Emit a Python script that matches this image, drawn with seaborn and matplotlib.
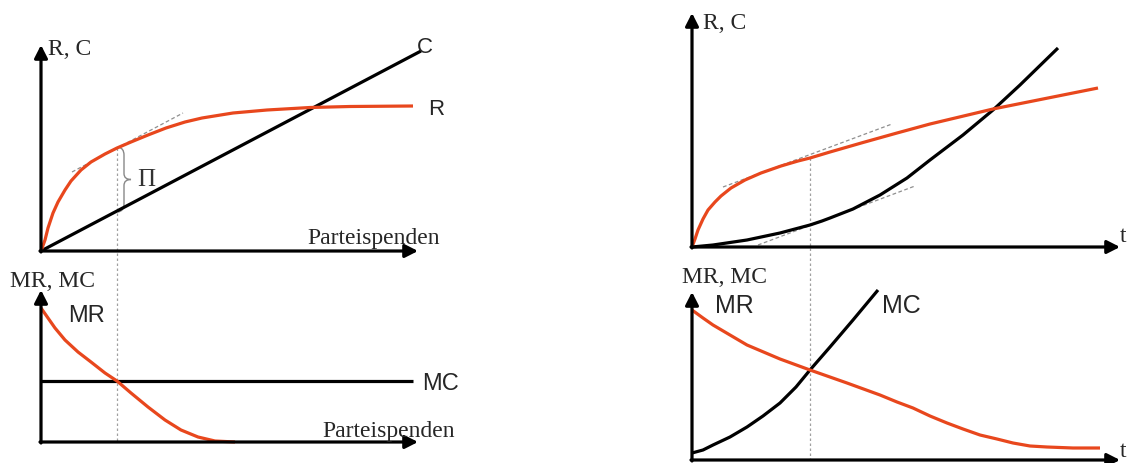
import matplotlib
matplotlib.use("Agg")
import matplotlib.pyplot as plt
import seaborn as sns
from matplotlib.path import Path
from matplotlib.patches import PathPatch

# ---- left column: party donations ----
# total revenue R and total cost C
don_r_x = [0, 4, 7, 12, 17, 24, 30, 40, 50, 64, 76, 90, 107, 125, 144, 161,
           192, 226, 269, 309, 372]
don_r_y = [0, 11, 23, 38, 49, 61, 70, 81, 89, 97, 103, 109, 116, 123, 129, 133,
           138, 141, 143.5, 144.5, 145]
don_c_x = [0, 380]
don_c_y = [0, 200]
don_tangent_x = [31, 142]
don_tangent_y = [79, 138]
don_opt_x = 76          # optimal donations (MR = MC)
don_opt_r = 103
don_opt_c = 40

# marginal revenue MR and marginal cost MC
don_mr_x = [0, 7, 14, 24, 37, 50, 64, 76, 90, 107, 124, 140, 157, 174, 194]
don_mr_y = [134, 124, 114, 102, 90, 80, 69, 61, 49, 35, 22, 12, 5, 1, 0]
don_mc_x = [0, 372]
don_mc_y = [61, 61]

# ---- right column: time t ----
t_r_x = [0, 3, 6, 11, 16, 23, 29, 39, 53, 69, 89, 106, 118, 138, 171, 205,
         238, 301, 406]
t_r_y = [0, 8, 17, 28, 37, 45, 51, 59, 67, 74, 81, 86, 89, 95, 104.5, 114,
         123, 138, 159]
t_c_x = [0, 21, 55, 88, 118, 130, 138, 161, 188, 215, 238, 271, 301, 328, 366]
t_c_y = [0, 2, 7, 14, 22, 26, 29, 38, 52, 69, 87, 112, 137, 162, 199]
t_r_tangent_x = [31, 200]
t_r_tangent_y = [60, 123]
t_c_tangent_x = [66, 223]
t_c_tangent_y = [2, 61]
t_opt_x = 118
t_opt_r = 89

t_mr_x = [0, 11, 21, 55, 88, 118, 155, 188, 205, 221, 238, 255, 271, 288, 305,
          321, 338, 355, 381, 408]
t_mr_y = [150, 142, 135, 115, 101, 90, 77, 65, 58, 52, 44, 37, 31, 25, 21,
          17, 14, 13, 12, 12]
t_mc_x = [0, 11, 21, 38, 55, 71, 88, 104, 118, 138, 161, 186]
t_mc_y = [7, 10, 15, 23, 33, 44, 57, 73, 90, 113, 140, 170]

ORANGE = "#E8471D"
GREY = "#8f8f8f"
SERIF = "Liberation Serif"
SANS = "Liberation Sans"
LW = 2.3

sns.set_theme(style="white")
plt.rcParams["font.family"] = ["Liberation Serif", "DejaVu Sans"]

W, H = 1128, 463
fig = plt.figure(figsize=(W / 100, H / 100), dpi=100)


def panel(box, origin):
    """Axes over a pixel box, one data unit per pixel, origin at the axis corner."""
    x0, y0, x1, y1 = box
    ox, oy = origin
    ax = fig.add_axes([x0 / W, 1 - y1 / H, (x1 - x0) / W, (y1 - y0) / H])
    ax.set_xlim(x0 - ox, x1 - ox)
    ax.set_ylim(oy - y1, oy - y0)
    ax.axis("off")
    return ax


def axes_arrows(ax, x_tip, y_tip):
    style = dict(arrowstyle="-|>,head_length=0.55,head_width=0.28", lw=LW,
                 color="black", shrinkA=0, shrinkB=0, mutation_scale=14)
    ax.annotate("", xy=(x_tip, 0), xytext=(-1, 0), arrowprops=style,
                annotation_clip=False)
    ax.annotate("", xy=(0, y_tip), xytext=(0, -1), arrowprops=style,
                annotation_clip=False)


def curve(ax, x, y, color, lw=LW, dashed=False):
    kw = dict(linestyle=(0, (3, 2)), lw=0.9) if dashed else dict(lw=lw)
    sns.lineplot(x=x, y=y, ax=ax, color=color, sort=False,
                 solid_capstyle="butt", solid_joinstyle="round", **kw)


ax_a = panel((0, 15, 470, 262), (41, 251))
ax_b = panel((0, 262, 470, 463), (41, 442))
ax_c = panel((660, 0, 1128, 258), (692, 247))
ax_d = panel((660, 258, 1128, 463), (692, 460))

# ---- panel A: R and C over donations ----
curve(ax_a, don_tangent_x, don_tangent_y, GREY, dashed=True)
curve(ax_a, don_c_x, don_c_y, "black")
curve(ax_a, don_r_x, don_r_y, ORANGE)
ax_a.plot([don_opt_x, don_opt_x], [don_opt_r, -191], color="#a0a0a0",
          lw=0.9, linestyle=(0, (2, 2)), clip_on=False, zorder=0)
bx, tip = don_opt_x + 7, don_opt_x + 14
mid = (don_opt_r + don_opt_c) / 2
brace = Path(
    [(don_opt_x + 1, don_opt_r + 1), (bx, don_opt_r), (bx, don_opt_r - 7),
     (bx, mid + 6), (bx, mid), (tip, mid), (bx, mid), (bx, mid - 6),
     (bx, don_opt_c + 7), (bx, don_opt_c), (don_opt_x + 1, don_opt_c - 1)],
    [Path.MOVETO, Path.CURVE3, Path.CURVE3, Path.LINETO, Path.CURVE3,
     Path.CURVE3, Path.CURVE3, Path.CURVE3, Path.LINETO, Path.CURVE3,
     Path.CURVE3])
ax_a.add_patch(PathPatch(brace, fill=False, edgecolor="#888888", lw=1.0))
ax_a.text(105, 71, "\u03a0", family=SERIF, fontsize=18, color="#333333",
          ha="center", va="center")
axes_arrows(ax_a, 377, 206)
ax_a.text(7, 196, "R, C", family=SERIF, fontsize=17, ha="left", va="baseline")
ax_a.text(376, 198, "C", family=SANS, fontsize=16, ha="left", va="baseline")
ax_a.text(387, 136, "R", family=SANS, fontsize=16, ha="left", va="baseline")
ax_a.text(266, 7, "Parteispenden", family=SERIF, fontsize=17, ha="left",
          va="baseline")

# ---- panel B: MR and MC over donations ----
curve(ax_b, don_mc_x, don_mc_y, "black")
curve(ax_b, don_mr_x, don_mr_y, ORANGE)
axes_arrows(ax_b, 377, 152)
ax_b.text(-31, 155, "MR, MC", family=SERIF, fontsize=17, ha="left",
          va="baseline")
ax_b.text(27, 120, "MR", family=SANS, fontsize=17, ha="left", va="baseline")
ax_b.text(381, 52, "MC", family=SANS, fontsize=17, ha="left", va="baseline")
ax_b.text(281, 5, "Parteispenden", family=SERIF, fontsize=17, ha="left",
          va="baseline")

# ---- panel C: R and C over time ----
curve(ax_c, t_r_tangent_x, t_r_tangent_y, GREY, dashed=True)
curve(ax_c, t_c_tangent_x, t_c_tangent_y, GREY, dashed=True)
curve(ax_c, t_c_x, t_c_y, "black")
curve(ax_c, t_r_x, t_r_y, ORANGE)
ax_c.plot([t_opt_x, t_opt_x], [t_opt_r, -216], color="#a0a0a0", lw=0.9,
          linestyle=(0, (2, 2)), clip_on=False, zorder=0)
axes_arrows(ax_c, 428, 234)
ax_c.text(11, 218, "R, C", family=SERIF, fontsize=17, ha="left", va="baseline")
ax_c.text(428, 5, "t", family=SERIF, fontsize=17, ha="left", va="baseline")

# ---- panel D: MR and MC over time ----
curve(ax_d, t_mc_x, t_mc_y, "black")
curve(ax_d, t_mr_x, t_mr_y, ORANGE)
axes_arrows(ax_d, 428, 168)
ax_d.text(-10, 177, "MR, MC", family=SERIF, fontsize=17, ha="left",
          va="baseline")
ax_d.text(23, 147, "MR", family=SANS, fontsize=18, ha="left", va="baseline")
ax_d.text(190, 147, "MC", family=SANS, fontsize=18, ha="left", va="baseline")
ax_d.text(428, 3, "t", family=SERIF, fontsize=17, ha="left", va="baseline")

fig.savefig("out.png", dpi=100, facecolor="white")
